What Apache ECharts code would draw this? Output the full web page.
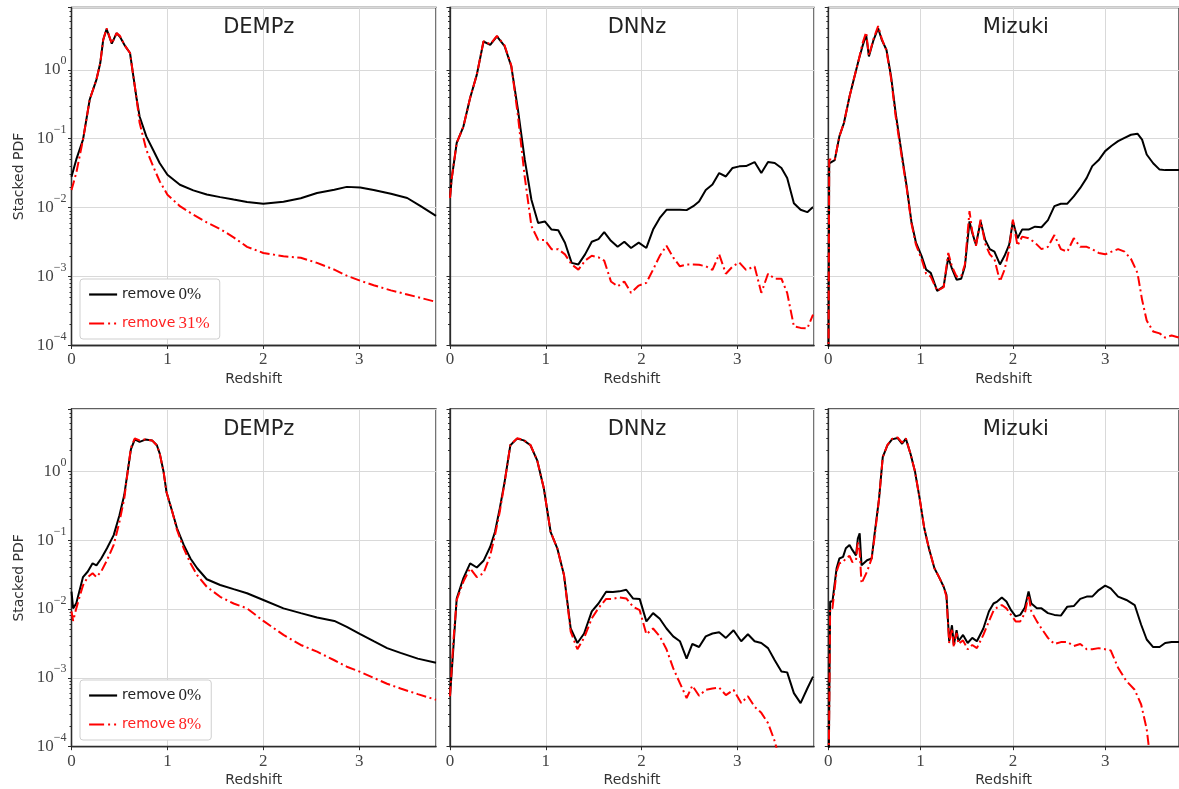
<!DOCTYPE html>
<html>
<head>
<meta charset="utf-8">
<script src="https://cdn.jsdelivr.net/npm/echarts@6/dist/echarts.min.js"></script>
<style>
html,body{margin:0;padding:0;background:#fff;}
#chart{width:1179px;height:789px;}
</style>
</head>
<body>
<div id="chart"></div>
<script>
// ---------------- data ----------------
const panelTitles = ['DEMPz', 'DNNz', 'Mizuki', 'DEMPz', 'DNNz', 'Mizuki'];
const seriesNames = ['remove 0%', 'remove 31%', 'remove 8%'];
const xTickLabels = ['0', '1', '2', '3'];

// top row, DEMPz
const dempzTopX = [0, 0.05, 0.12, 0.19, 0.26, 0.30, 0.33, 0.366, 0.42, 0.47, 0.505, 0.56, 0.61, 0.645, 0.68, 0.71, 0.78, 0.85, 0.92, 1.0, 1.13, 1.27, 1.41, 1.55, 1.69, 1.83, 2.0, 2.21, 2.39, 2.56, 2.74, 2.87, 3.01, 3.15, 3.33, 3.5, 3.64, 3.8];
const dempzTopRemove0 = [0.028, 0.05, 0.097, 0.37, 0.72, 1.25, 2.7, 3.9, 2.4, 3.4, 3.0, 2.2, 1.75, 0.8, 0.37, 0.21, 0.108, 0.069, 0.044, 0.030, 0.0215, 0.0178, 0.0155, 0.0142, 0.0131, 0.0121, 0.0114, 0.0122, 0.0137, 0.0163, 0.0182, 0.020, 0.0196, 0.018, 0.0159, 0.0138, 0.0105, 0.0076];
const dempzTopRemove31 = [0.018, 0.032, 0.097, 0.37, 0.72, 1.25, 2.7, 4.0, 2.4, 3.4, 3.1, 2.2, 1.75, 0.8, 0.37, 0.17, 0.069, 0.040, 0.024, 0.0154, 0.0105, 0.0079, 0.0061, 0.0049, 0.0037, 0.0027, 0.0022, 0.00197, 0.00187, 0.00158, 0.00126, 0.00103, 0.00087, 0.00075, 0.00063, 0.00055, 0.00049, 0.00043];

// top row, DNNz
const dnnzTopX = [0, 0.017, 0.07, 0.14, 0.21, 0.28, 0.35, 0.42, 0.49, 0.57, 0.64, 0.71, 0.78, 0.85, 0.92, 0.99, 1.06, 1.13, 1.2, 1.27, 1.34, 1.41, 1.48, 1.55, 1.61, 1.68, 1.75, 1.82, 1.89, 1.97, 2.05, 2.12, 2.19, 2.26, 2.33, 2.4, 2.47, 2.54, 2.6, 2.67, 2.74, 2.81, 2.88, 2.95, 3.02, 3.09, 3.18, 3.25, 3.32, 3.39, 3.46, 3.52, 3.59, 3.66, 3.73, 3.79];
const dnnzTopRemove0 = [0.0138, 0.026, 0.087, 0.15, 0.39, 0.85, 2.57, 2.3, 3.04, 2.2, 1.12, 0.26, 0.05, 0.013, 0.006, 0.0063, 0.0048, 0.0047, 0.0031, 0.00158, 0.0015, 0.0021, 0.0032, 0.0035, 0.0044, 0.0033, 0.0027, 0.0032, 0.0026, 0.0031, 0.0026, 0.0048, 0.0071, 0.0093, 0.0093, 0.0093, 0.0092, 0.0105, 0.0123, 0.018, 0.0216, 0.0317, 0.0283, 0.0376, 0.0397, 0.040, 0.0458, 0.0317, 0.0458, 0.0444, 0.0376, 0.027, 0.0116, 0.0093, 0.0086, 0.0102];
const dnnzTopRemove31 = [0.0138, 0.026, 0.087, 0.15, 0.39, 0.85, 2.6, 2.35, 3.1, 2.25, 1.15, 0.21, 0.028, 0.0054, 0.0034, 0.0034, 0.0025, 0.0025, 0.0021, 0.0015, 0.00126, 0.0017, 0.002, 0.0019, 0.0017, 0.00085, 0.00072, 0.00085, 0.00058, 0.00074, 0.00081, 0.00126, 0.002, 0.0028, 0.0019, 0.00141, 0.0015, 0.0015, 0.00148, 0.00141, 0.00125, 0.0021, 0.0011, 0.0014, 0.0016, 0.00125, 0.0014, 0.00058, 0.0011, 0.00093, 0.00093, 0.00058, 0.00019, 0.00018, 0.000177, 0.00028];

// top row, Mizuki
const mizukiTopX = [0, 0.01, 0.07, 0.12, 0.17, 0.23, 0.28, 0.33, 0.37, 0.41, 0.44, 0.49, 0.54, 0.58, 0.63, 0.68, 0.73, 0.80, 0.85, 0.9, 0.95, 1.01, 1.06, 1.11, 1.18, 1.25, 1.30, 1.34, 1.39, 1.44, 1.48, 1.53, 1.56, 1.6, 1.65, 1.7, 1.75, 1.8, 1.86, 1.91, 1.96, 2.0, 2.05, 2.1, 2.17, 2.24, 2.31, 2.38, 2.45, 2.52, 2.59, 2.66, 2.73, 2.8, 2.86, 2.93, 3.0, 3.07, 3.14, 3.21, 3.28, 3.35, 3.4, 3.45, 3.52, 3.59, 3.65, 3.72, 3.8];
const mizukiTopRemove0 = [0.00001, 0.044, 0.049, 0.108, 0.17, 0.41, 0.76, 1.4, 2.18, 3.2, 1.56, 2.7, 4.0, 2.7, 1.95, 0.8, 0.235, 0.055, 0.020, 0.0063, 0.0031, 0.0020, 0.00126, 0.00113, 0.00062, 0.00072, 0.0019, 0.0013, 0.0009, 0.00093, 0.0014, 0.0063, 0.0043, 0.0029, 0.0063, 0.0034, 0.0025, 0.0023, 0.0015, 0.002, 0.0029, 0.0063, 0.0036, 0.0048, 0.0048, 0.0053, 0.0052, 0.0066, 0.0105, 0.0114, 0.0114, 0.0146, 0.0193, 0.027, 0.040, 0.049, 0.066, 0.079, 0.092, 0.103, 0.114, 0.118, 0.097, 0.059, 0.044, 0.0356, 0.035, 0.035, 0.035];
const mizukiTopRemove31 = [0.00001, 0.05, 0.05, 0.108, 0.17, 0.41, 0.76, 1.4, 2.4, 3.5, 1.6, 2.8, 4.3, 2.8, 1.9, 0.75, 0.21, 0.05, 0.019, 0.006, 0.0029, 0.0018, 0.0011, 0.001, 0.00062, 0.0007, 0.0022, 0.0014, 0.0010, 0.001, 0.0015, 0.0089, 0.0045, 0.0028, 0.0067, 0.003, 0.0021, 0.0018, 0.00085, 0.00126, 0.0025, 0.0067, 0.0028, 0.0038, 0.0036, 0.0031, 0.0025, 0.0027, 0.0040, 0.0025, 0.0023, 0.0036, 0.0027, 0.0027, 0.0025, 0.0022, 0.0021, 0.0023, 0.0025, 0.0023, 0.0018, 0.00113, 0.00046, 0.00023, 0.00016, 0.00015, 0.00013, 0.00014, 0.00013];

// bottom row, DEMPz
const dempzBotX = [0, 0.017, 0.05, 0.09, 0.12, 0.17, 0.22, 0.26, 0.31, 0.37, 0.44, 0.5, 0.55, 0.59, 0.62, 0.66, 0.71, 0.77, 0.84, 0.89, 0.92, 0.96, 0.99, 1.05, 1.1, 1.17, 1.24, 1.31, 1.41, 1.55, 1.69, 1.83, 2.0, 2.21, 2.39, 2.56, 2.74, 2.87, 3.01, 3.15, 3.29, 3.43, 3.61, 3.8];
const dempzBotRemove0 = [0.0178, 0.0102, 0.0121, 0.020, 0.029, 0.035, 0.046, 0.043, 0.054, 0.076, 0.118, 0.23, 0.45, 1.09, 2.1, 2.9, 2.66, 2.88, 2.8, 2.38, 1.8, 0.98, 0.50, 0.26, 0.148, 0.085, 0.054, 0.039, 0.027, 0.0223, 0.0194, 0.0169, 0.0135, 0.0102, 0.0087, 0.0075, 0.0067, 0.0055, 0.0043, 0.0034, 0.0027, 0.0023, 0.0019, 0.00166];
const dempzBotRemove8 = [0.0092, 0.0067, 0.0102, 0.016, 0.022, 0.029, 0.033, 0.029, 0.035, 0.051, 0.085, 0.184, 0.40, 1.09, 2.2, 3.0, 2.8, 2.9, 2.8, 2.38, 1.8, 0.98, 0.5, 0.26, 0.14, 0.076, 0.046, 0.031, 0.021, 0.015, 0.012, 0.0102, 0.0067, 0.0042, 0.003, 0.0024, 0.0018, 0.00145, 0.00122, 0.001, 0.00082, 0.0007, 0.00058, 0.00048];

// bottom row, DNNz
const dnnzBotX = [0, 0.035, 0.07, 0.14, 0.21, 0.28, 0.35, 0.42, 0.47, 0.52, 0.57, 0.63, 0.7, 0.77, 0.84, 0.91, 0.98, 1.05, 1.12, 1.19, 1.26, 1.33, 1.4, 1.48, 1.55, 1.63, 1.7, 1.77, 1.84, 1.91, 1.98, 2.05, 2.12, 2.19, 2.26, 2.33, 2.4, 2.47, 2.53, 2.6, 2.67, 2.74, 2.81, 2.88, 2.96, 3.04, 3.11, 3.18, 3.25, 3.32, 3.39, 3.46, 3.52, 3.59, 3.66, 3.73, 3.79];
const dnnzBotRemove0 = [0.00054, 0.0027, 0.0142, 0.028, 0.046, 0.04, 0.05, 0.08, 0.132, 0.29, 0.7, 2.38, 2.97, 2.8, 2.38, 1.44, 0.56, 0.132, 0.076, 0.031, 0.0052, 0.0032, 0.0044, 0.0092, 0.012, 0.0178, 0.0176, 0.018, 0.019, 0.0142, 0.014, 0.0066, 0.0087, 0.0072, 0.0052, 0.004, 0.0034, 0.0019, 0.0031, 0.0028, 0.004, 0.0044, 0.0046, 0.0038, 0.0049, 0.0034, 0.0043, 0.0034, 0.0032, 0.0027, 0.0018, 0.00124, 0.0012, 0.0006, 0.00043, 0.0007, 0.00104];
const dnnzBotRemove8 = [0.00054, 0.0034, 0.0135, 0.025, 0.039, 0.029, 0.033, 0.06, 0.118, 0.26, 0.68, 2.4, 3.0, 2.85, 2.4, 1.44, 0.56, 0.132, 0.076, 0.031, 0.0047, 0.0026, 0.0038, 0.0073, 0.0103, 0.014, 0.014, 0.0147, 0.0142, 0.0108, 0.0096, 0.0043, 0.0052, 0.004, 0.0026, 0.00138, 0.00084, 0.00051, 0.00077, 0.00055, 0.00067, 0.0007, 0.00072, 0.00056, 0.00067, 0.00043, 0.00054, 0.00038, 0.00031, 0.00022, 0.00012, 0.00005, 0.00002, 0.00001, 0.00001, 0.00001, 0.00001];

// bottom row, Mizuki
const mizukiBotX = [0, 0.02, 0.045, 0.09, 0.12, 0.16, 0.19, 0.23, 0.26, 0.3, 0.32, 0.34, 0.36, 0.42, 0.47, 0.5, 0.55, 0.59, 0.64, 0.69, 0.75, 0.8, 0.84, 0.89, 0.94, 0.99, 1.04, 1.09, 1.15, 1.2, 1.25, 1.28, 1.31, 1.34, 1.36, 1.39, 1.41, 1.46, 1.51, 1.56, 1.61, 1.68, 1.74, 1.79, 1.83, 1.88, 1.93, 1.98, 2.03, 2.08, 2.13, 2.17, 2.2, 2.26, 2.31, 2.38, 2.45, 2.52, 2.59, 2.66, 2.73, 2.8, 2.86, 2.93, 3.0, 3.06, 3.14, 3.23, 3.32, 3.39, 3.45, 3.52, 3.59, 3.65, 3.72, 3.8];
const mizukiBotRemove0 = [0.00001, 0.0128, 0.0128, 0.039, 0.054, 0.057, 0.076, 0.085, 0.072, 0.06, 0.105, 0.125, 0.043, 0.051, 0.054, 0.118, 0.40, 1.6, 2.38, 2.9, 3.04, 2.5, 2.97, 1.8, 0.98, 0.40, 0.148, 0.076, 0.039, 0.029, 0.021, 0.016, 0.0034, 0.0058, 0.003, 0.0049, 0.0034, 0.0042, 0.0032, 0.0038, 0.0034, 0.0052, 0.0092, 0.012, 0.0128, 0.0147, 0.0128, 0.0096, 0.0078, 0.0082, 0.0105, 0.018, 0.012, 0.0102, 0.0102, 0.0087, 0.0082, 0.008, 0.0108, 0.011, 0.014, 0.0151, 0.0151, 0.0188, 0.0218, 0.0199, 0.0151, 0.0135, 0.0114, 0.0059, 0.0036, 0.0028, 0.0028, 0.0032, 0.0033, 0.0033];
const mizukiBotRemove8 = [0.00001, 0.0102, 0.0102, 0.035, 0.046, 0.048, 0.054, 0.059, 0.048, 0.051, 0.095, 0.068, 0.0235, 0.035, 0.054, 0.106, 0.40, 1.6, 2.4, 2.95, 3.1, 2.6, 3.0, 1.8, 0.98, 0.40, 0.148, 0.076, 0.039, 0.029, 0.021, 0.015, 0.0032, 0.0052, 0.0028, 0.0045, 0.0031, 0.0035, 0.0026, 0.003, 0.0027, 0.0042, 0.0066, 0.0094, 0.0105, 0.0114, 0.0102, 0.0082, 0.0066, 0.0066, 0.0087, 0.0159, 0.0092, 0.0066, 0.0052, 0.0038, 0.0031, 0.0033, 0.0033, 0.0029, 0.0031, 0.0026, 0.0026, 0.0027, 0.0026, 0.0025, 0.0014, 0.0009, 0.00067, 0.00041, 0.00018, 0.00003, 0.00001, 0.00001, 0.00001, 0.00001];

// ---------------- layout ----------------
const panelData = [
  [dempzTopX, dempzTopRemove0, dempzTopRemove31, seriesNames[1]],
  [dnnzTopX, dnnzTopRemove0, dnnzTopRemove31, seriesNames[1]],
  [mizukiTopX, mizukiTopRemove0, mizukiTopRemove31, seriesNames[1]],
  [dempzBotX, dempzBotRemove0, dempzBotRemove8, seriesNames[2]],
  [dnnzBotX, dnnzBotRemove0, dnnzBotRemove8, seriesNames[2]],
  [mizukiBotX, mizukiBotRemove0, mizukiBotRemove8, seriesNames[2]]
];
const colLeft = [71.5, 450, 828.3];
const colWidth = [364.5, 364, 365];
const rowTop = [7.5, 409];
const rowHeight = [338, 337.7];

const SERIF = 'Liberation Serif';
const SANS = 'DejaVu Sans';
const FRAME = '#2b2b2b';
const GRIDC = '#d9d9d9';
const RED_DASH = [10, 3.5, 2, 3.5];

function supLabel(value) {
  const e = Math.round(Math.log10(value));
  if (Math.abs(value - Math.pow(10, e)) / value > 1e-6) return '';
  return '{b|10}{s|' + (e < 0 ? '\u2212' + (-e) : e) + '}';
}
function legendFmt(name) {
  const parts = name.split(' ');
  return '{a|' + parts[0] + '} {m|' + parts[1] + '}';
}

const grids = [], xAxes = [], yAxes = [], series = [], titles = [];
for (let i = 0; i < 6; i++) {
  const r = Math.floor(i / 3), c = i % 3;
  grids.push({
    left: colLeft[c], top: rowTop[r], width: colWidth[c], height: rowHeight[r],
    show: true, borderColor: FRAME, borderWidth: 1.3, containLabel: false
  });
  xAxes.push({
    gridIndex: i, type: 'value', min: 0, max: 3.8, interval: 1,
    name: 'Redshift', nameLocation: 'middle', nameGap: 27,
    nameTextStyle: { fontFamily: SANS, fontSize: 14, color: '#333' },
    axisLine: { show: true, onZero: false, lineStyle: { color: FRAME, width: 1.3 } },
    axisTick: { show: true, inside: false, length: 3.5, lineStyle: { color: FRAME } },
    axisLabel: {
      show: true, showMaxLabel: false, margin: 6, fontFamily: SERIF, fontSize: 17, color: '#444',
      formatter: function (v) { return Number.isInteger(v) ? xTickLabels[v] : ''; }
    },
    splitLine: { show: true, lineStyle: { color: GRIDC, width: 1 } }
  });
  yAxes.push({
    gridIndex: i, type: 'log', logBase: 10, min: 1e-4, max: 8,
    name: c === 0 ? 'Stacked PDF' : '', nameLocation: 'middle', nameGap: 45,
    nameTextStyle: { fontFamily: SANS, fontSize: 14, color: '#333' },
    axisLine: { show: true, lineStyle: { color: FRAME, width: 1.3 } },
    axisTick: { show: true, inside: false, length: 3.5, lineStyle: { color: FRAME } },
    minorTick: { show: true, splitNumber: 9, length: 2, lineStyle: { color: FRAME } },
    axisLabel: {
      show: c === 0, showMaxLabel: false, margin: 5, color: '#444',
      formatter: supLabel,
      rich: {
        b: { fontFamily: SERIF, fontSize: 17, lineHeight: 17, verticalAlign: 'middle', color: '#444' },
        s: { fontFamily: SERIF, fontSize: 12, lineHeight: 12, verticalAlign: 'middle', padding: [0, 0, 17, 0], color: '#444' }
      }
    },
    splitLine: { show: true, lineStyle: { color: GRIDC, width: 1 } }
  });
  titles.push({
    text: panelTitles[i], left: colLeft[c] + colWidth[c] / 2, top: rowTop[r] + 5, textAlign: 'center',
    textStyle: { fontFamily: SANS, fontSize: 21, fontWeight: 'normal', color: '#222' }
  });
  const pd = panelData[i];
  series.push({
    type: 'line', name: seriesNames[0], xAxisIndex: i, yAxisIndex: i,
    data: pd[0].map((x, j) => [x, pd[1][j]]),
    symbol: 'none', showSymbol: false, clip: true, z: 3,
    lineStyle: { color: '#000000', width: 2 }, itemStyle: { color: '#000000' }
  });
  series.push({
    type: 'line', name: pd[3], xAxisIndex: i, yAxisIndex: i,
    data: pd[0].map((x, j) => [x, pd[2][j]]),
    symbol: 'none', showSymbol: false, clip: true, z: 4,
    lineStyle: { color: '#ff0000', width: 2, type: RED_DASH }, itemStyle: { color: '#ff0000' }
  });
}

function makeLegend(top, redName) {
  return {
    orient: 'vertical', left: 80, top: top, selectedMode: false,
    data: [
      { name: seriesNames[0], lineStyle: { color: '#000000', width: 2.2, type: 'solid' } },
      { name: redName, textStyle: { color: '#ff2020' }, lineStyle: { color: '#ff0000', width: 2.2, type: [15, 4, 2, 4, 2, 10] } }
    ],
    itemWidth: 28, itemHeight: 14, itemGap: 12,
    itemStyle: { opacity: 0, borderWidth: 0 },
    padding: [7, 10, 7, 8],
    backgroundColor: '#ffffff', borderColor: '#cfcfcf', borderWidth: 1, borderRadius: 3,
    formatter: legendFmt,
    textStyle: {
      color: '#222',
      rich: {
        a: { fontFamily: SANS, fontSize: 14 },
        m: { fontFamily: SERIF, fontSize: 17 }
      }
    }
  };
}

const option = {
  animation: false,
  backgroundColor: '#ffffff',
  title: titles,
  grid: grids,
  xAxis: xAxes,
  yAxis: yAxes,
  legend: [makeLegend(279, seriesNames[1]), makeLegend(680, seriesNames[2])],
  series: series
};

const chart = echarts.init(document.getElementById('chart'), null, { renderer: 'canvas' });
chart.setOption(option);
</script>
</body>
</html>
